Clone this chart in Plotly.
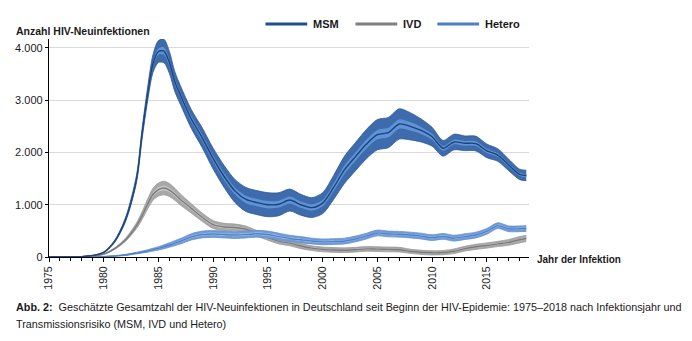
import plotly.graph_objects as go

# Infection year (half-year steps around the 1985 peak)
years = [1975, 1976, 1977, 1978, 1979, 1980, 1981, 1982, 1983,
         1983.5, 1984, 1984.5, 1985, 1985.5, 1986, 1986.5,
         1987, 1988, 1989, 1990, 1991, 1992, 1993, 1994, 1995,
         1996, 1997, 1998, 1999, 2000,
         2001, 2002, 2003, 2004, 2005,
         2006, 2007, 2008, 2009, 2010,
         2011, 2012, 2013, 2014, 2015,
         2016, 2017, 2018, 2018.6]

# Estimated new infections (median) per transmission group
msm = [0, 0, 2, 8, 30, 90, 300, 720, 1500,
       2350, 3100, 3700, 3930, 3940, 3720, 3350,
       3100, 2640, 2280, 1880, 1540, 1260, 1100, 1040, 1000,
       1010, 1090, 1000, 945, 1030,
       1330, 1670, 1920, 2160, 2340,
       2380, 2545, 2500, 2420, 2300,
       2080, 2200, 2175, 2170, 2030,
       1950, 1760, 1580, 1560]
ivd = [0, 0, 2, 8, 20, 55, 160, 330, 600,
       790, 1010, 1200, 1290, 1320, 1280, 1200,
       1100, 930, 760, 620, 575, 565, 530, 450, 370,
       300, 265, 210, 170, 145,
       135, 130, 140, 155, 150,
       145, 140, 110, 90, 80,
       85, 110, 160, 195, 220,
       250, 280, 330, 355]
hetero = [0, 0, 0, 1, 3, 8, 20, 40, 75,
          95, 115, 140, 165, 195, 230, 265,
          300, 385, 430, 440, 430, 420, 430, 445, 430,
          390, 355, 330, 305, 290,
          295, 305, 345, 400, 460,
          440, 435, 420, 400, 370,
          395, 360, 390, 420, 490,
          600, 540, 540, 545]

# Half-widths of the outer (wide) and inner (narrow) uncertainty intervals
msm_outer = [0, 0, 0, 1, 3, 8, 20, 40, 70,
             100, 130, 170, 210, 225, 210, 190,
             180, 180, 190, 200, 210, 220, 230, 230, 230,
             220, 210, 200, 190, 200,
             230, 260, 270, 280, 290,
             290, 290, 260, 220, 180,
             150, 150, 140, 140, 130,
             120, 110, 100, 100]
msm_inner = [0, 0, 0, 0, 1, 3, 6, 12, 20,
             30, 40, 50, 60, 70, 65, 60,
             55, 55, 60, 60, 65, 65, 70, 70, 70,
             65, 65, 60, 60, 60,
             70, 80, 80, 85, 90,
             90, 90, 80, 65, 55,
             45, 45, 45, 45, 40,
             35, 35, 30, 30]
ivd_outer = [0, 0, 0, 1, 2, 6, 15, 30, 55,
             75, 95, 115, 125, 130, 125, 115,
             105, 90, 80, 75, 70, 65, 60, 55, 50,
             50, 50, 50, 45, 45,
             45, 45, 45, 45, 45,
             45, 45, 40, 40, 40,
             40, 45, 45, 50, 50,
             50, 55, 60, 60]
ivd_inner = [0, 0, 0, 0, 1, 2, 5, 10, 18,
             25, 32, 38, 42, 45, 42, 38,
             35, 30, 27, 25, 23, 22, 20, 18, 17,
             17, 17, 17, 15, 15,
             15, 15, 15, 15, 15,
             15, 15, 14, 14, 14,
             14, 15, 15, 17, 17,
             17, 18, 20, 20]
hetero_outer = [0, 0, 0, 0, 1, 3, 6, 10, 15,
                18, 22, 27, 32, 37, 42, 48,
                52, 60, 65, 65, 65, 65, 65, 65, 65,
                65, 60, 60, 55, 55,
                55, 55, 55, 55, 55,
                55, 55, 55, 55, 55,
                55, 55, 55, 55, 55,
                55, 55, 55, 55]
hetero_inner = [0, 0, 0, 0, 0, 1, 2, 3, 5,
                6, 8, 9, 11, 13, 15, 17,
                18, 21, 23, 23, 23, 23, 23, 23, 23,
                23, 21, 21, 19, 19,
                19, 19, 19, 19, 19,
                19, 19, 19, 19, 19,
                19, 19, 19, 19, 19,
                19, 19, 19, 19]

series_names = ["MSM", "IVD", "Hetero"]

FONT = "Liberation Sans"
TXT = "#1a1a1a"

styles = {
    "MSM":    dict(outer="#3d6bab", edge="#2d5995", inner="#5f92d6", line="#1c4478", legend="#1f4e8c"),
    "IVD":    dict(outer="#a8a8a8", edge="#999999", inner="#c9c9c9", line="#7a7a7a", legend="#7f7f7f"),
    "Hetero": dict(outer="#709bd7", edge="#6391d0", inner="#a9c6ec", line="#4f80c6", legend="#4a7ec8"),
}

data = {
    "MSM": (msm, msm_outer, msm_inner),
    "IVD": (ivd, ivd_outer, ivd_inner),
    "Hetero": (hetero, hetero_outer, hetero_inner),
}

fig = go.Figure()

def band(lo, hi, fill, edge, width):
    fig.add_trace(go.Scatter(x=years, y=lo, mode="lines", showlegend=False, hoverinfo="skip",
                             line=dict(color=edge, width=width, shape="spline", smoothing=0.8)))
    fig.add_trace(go.Scatter(x=years, y=hi, mode="lines", showlegend=False, hoverinfo="skip",
                             fill="tonexty", fillcolor=fill,
                             line=dict(color=edge, width=width, shape="spline", smoothing=0.8)))

for name in ["IVD", "Hetero", "MSM"]:
    mid, outer, inner = data[name]
    st = styles[name]
    band([m - o for m, o in zip(mid, outer)], [m + o for m, o in zip(mid, outer)],
         st["outer"], st["edge"], 0.8)
    band([m - i for m, i in zip(mid, inner)], [m + i for m, i in zip(mid, inner)],
         st["inner"], st["inner"], 0)
    fig.add_trace(go.Scatter(x=years, y=mid, mode="lines", name=name, showlegend=False,
                             line=dict(color=st["line"], width=1.4, shape="spline", smoothing=0.8)))

# Legend drawn above the plot area
legend_pos = {"MSM": 0.451, "IVD": 0.6385, "Hetero": 0.809}
shapes, annotations = [], []
for name in series_names:
    x0 = legend_pos[name]
    shapes.append(dict(type="line", xref="paper", yref="paper", x0=x0, x1=x0 + 0.087,
                       y0=1.069, y1=1.069, line=dict(color=styles[name]["legend"], width=3)))
    annotations.append(dict(xref="paper", yref="paper", x=x0 + 0.095, y=1.069,
                            xanchor="left", yanchor="middle", showarrow=False,
                            text="<b>%s</b>" % name, font=dict(family=FONT, size=11, color=TXT)))

annotations += [
    dict(xref="paper", yref="paper", x=-0.073, y=1.035, xanchor="left", yanchor="middle",
         showarrow=False, text="<b>Anzahl HIV-Neuinfektionen</b>",
         font=dict(family=FONT, size=10.5, color=TXT)),
    dict(xref="paper", yref="paper", x=1.012, y=-0.01, xanchor="left", yanchor="middle",
         showarrow=False, text="<b>Jahr der Infektion</b>",
         font=dict(family=FONT, size=10, color=TXT)),
    dict(xref="paper", yref="paper", x=-0.073, y=-0.23, xanchor="left", yanchor="middle",
         showarrow=False,
         text="<b>Abb. 2:</b>  Geschätzte Gesamtzahl der HIV-Neuinfektionen in Deutschland seit Beginn "
              "der HIV-Epidemie: 1975–2018 nach Infektionsjahr und",
         font=dict(family=FONT, size=10.8, color=TXT)),
    dict(xref="paper", yref="paper", x=-0.073, y=-0.308, xanchor="left", yanchor="middle",
         showarrow=False, text="Transmissionsrisiko (MSM, IVD und Hetero)",
         font=dict(family=FONT, size=10.8, color=TXT)),
]

fig.update_layout(
    width=692, height=341,
    margin=dict(l=49, r=163, t=39, b=84),
    paper_bgcolor="white", plot_bgcolor="white",
    separators=",.",
    showlegend=False,
    shapes=shapes, annotations=annotations,
    xaxis=dict(range=[1975, 2018.85], tickmode="linear", tick0=1975, dtick=5,
               ticks="outside", ticklen=4, tickcolor="#000", tickwidth=1,
               minor=dict(dtick=1, ticks="outside", ticklen=3, tickcolor="#000", tickwidth=1),
               tickangle=-90, showgrid=False, zeroline=False,
               showline=True, linecolor="#000", linewidth=1.3,
               tickfont=dict(family=FONT, size=10.5, color=TXT)),
    yaxis=dict(range=[0, 4170], tickvals=[0, 1000, 2000, 3000, 4000], tickformat=",d",
               ticks="outside", ticklen=3, tickcolor="#000",
               showgrid=True, gridcolor="#dadada", gridwidth=1, zeroline=False,
               showline=True, linecolor="#000", linewidth=1.3,
               tickfont=dict(family=FONT, size=11, color=TXT)),
)

fig.write_html("out.html")
